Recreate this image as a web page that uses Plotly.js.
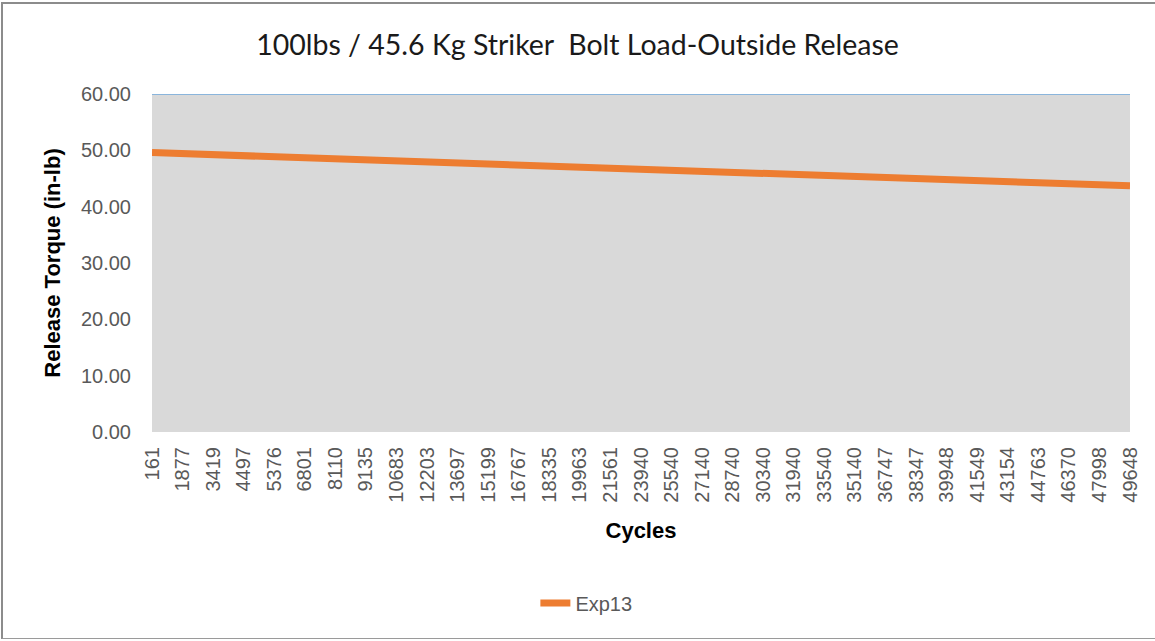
<!DOCTYPE html>
<html>
<head>
<meta charset="utf-8">
<script src="https://cdn.plot.ly/plotly-3.0.1.min.js"></script>
<style>
  html, body { margin: 0; padding: 0; background: #fff; overflow: hidden; }
  #wrap { position: relative; width: 1155px; height: 641px; overflow: hidden; }
  #chart { width: 1155px; height: 641px; }
  #frame { position: absolute; left: 1px; top: 2px; width: 1160px; height: 637px;
           border-left: 2px solid #8c8c8c; border-top: 2px solid #8c8c8c; border-bottom: 1px solid #9a9a9a;
           pointer-events: none; box-sizing: border-box; }
</style>
</head>
<body>
<div id="wrap">
  <div id="chart"></div>
  <div id="frame"></div>
</div>
<script>
// Category labels (cycles)
const cycles = ["161","1877","3419","4497","5376","6801","8110","9135","10683","12203",
  "13697","15199","16767","18335","19963","21561","23940","25540","27140","28740",
  "30340","31940","33540","35140","36747","38347","39948","41549","43154","44763",
  "46370","47998","49648"];

// Exp13 release torque (in-lb)
const exp13 = [49.60,49.42,49.23,49.05,48.86,48.68,48.49,48.31,48.12,47.94,
  47.76,47.57,47.39,47.20,47.02,46.83,46.65,46.47,46.28,46.10,
  45.91,45.73,45.54,45.36,45.17,44.99,44.81,44.62,44.44,44.25,
  44.07,43.88,43.70];

// Upper band series (shaded area up to 60)
const upperLimit = cycles.map(() => 60);

const traces = [
  {
    x: cycles, y: upperLimit, type: 'scatter', mode: 'lines',
    fill: 'tozeroy', fillcolor: '#d9d9d9',
    line: { color: '#6fa8dc', width: 1.5 },
    showlegend: false, hoverinfo: 'skip', name: 'Limit'
  },
  {
    x: cycles, y: exp13, type: 'scatter', mode: 'lines',
    line: { color: '#ed7d31', width: 7 },
    name: 'Exp13'
  }
];

const layout = {
  width: 1155, height: 641,
  paper_bgcolor: '#ffffff', plot_bgcolor: '#d9d9d9',
  margin: { l: 152, r: 25, t: 94, b: 209 },
  title: {
    text: '100lbs / 45.6 Kg Striker  Bolt Load-Outside Release',
    font: { family: 'Lato, "Open Sans", sans-serif', size: 28.5, color: '#1a1a1a' },
    x: 0.5, xanchor: 'center', y: 0.93, yanchor: 'middle', yref: 'container'
  },
  xaxis: {
    type: 'category',
    range: [0, 32],
    tickangle: -90,
    tickfont: { family: '"Liberation Sans", Arial, sans-serif', size: 20, color: '#595959' },
    showgrid: false, zeroline: false, showline: false,
    ticks: '', ticklabelstandoff: 10,
    title: { text: 'Cycles', standoff: 20,
      font: { family: '"Liberation Sans", Arial, sans-serif', size: 22, color: '#000', weight: 'bold' } }
  },
  yaxis: {
    range: [0, 60],
    tickvals: [0,10,20,30,40,50,60],
    ticktext: ['0.00','10.00','20.00','30.00','40.00','50.00','60.00'],
    tickfont: { family: '"Liberation Sans", Arial, sans-serif', size: 20, color: '#595959' },
    showgrid: false, zeroline: false, showline: false, ticks: '',
    ticklabelstandoff: 20,
    title: { text: 'Release Torque (in-lb)', standoff: 14,
      font: { family: '"Liberation Sans", Arial, sans-serif', size: 22, color: '#000', weight: 'bold' } }
  },
  legend: {
    orientation: 'h', x: 0.392, xanchor: 'left', y: -0.506, yanchor: 'middle',
    font: { family: '"Liberation Sans", Arial, sans-serif', size: 20, color: '#595959' }
  },
  showlegend: true
};

Plotly.newPlot('chart', traces, layout, { displayModeBar: false, staticPlot: true });
</script>
</body>
</html>
